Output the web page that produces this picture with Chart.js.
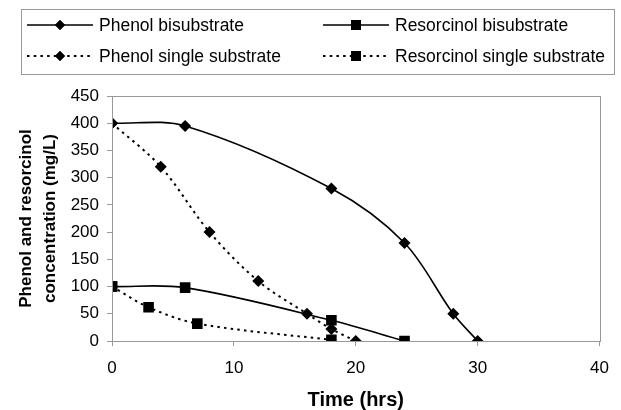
<!DOCTYPE html>
<html>
<head>
<meta charset="utf-8">
<script src="https://cdn.jsdelivr.net/npm/chart.js@4.4.1/dist/chart.umd.min.js"></script>
<style>
  html, body { margin: 0; padding: 0; background: #fff; }
  #wrap { width: 621px; height: 410px; }
</style>
</head>
<body>
<div id="wrap"><canvas id="chart"></canvas></div>
<script>
// 시간 (hrs) 과 농도 (mg/L)
const phenolBiTime = [0, 6, 18, 24, 28, 30];
const phenolBiConc = [400, 395, 280, 180, 50, 0];

const resorcinolBiTime = [0, 6, 18, 24];
const resorcinolBiConc = [100, 98, 38, 0];

const phenolSingleTime = [0, 4, 8, 12, 16, 18, 20];
const phenolSingleConc = [400, 320, 200, 110, 50, 22, 0];

const resorcinolSingleTime = [0, 3, 7, 18];
const resorcinolSingleConc = [100, 62, 32, 2];

const xTicks = [0, 10, 20, 30, 40];
const yTicks = [0, 50, 100, 150, 200, 250, 300, 350, 400, 450];

const FONT = '"Liberation Sans", Arial, sans-serif';
const DOTS = [2.5, 4.2];

const toPoints = (xs, ys) => xs.map((x, i) => ({ x: x, y: ys[i] }));

const series = [
    { label: 'Phenol bisubstrate', data: toPoints(phenolBiTime, phenolBiConc), pointStyle: 'rectRot', radius: 6, dash: [] },
    { label: 'Resorcinol bisubstrate', data: toPoints(resorcinolBiTime, resorcinolBiConc), pointStyle: 'rect', radius: 7.5, dash: [] },
    { label: 'Phenol single substrate', data: toPoints(phenolSingleTime, phenolSingleConc), pointStyle: 'rectRot', radius: 6, dash: DOTS },
    { label: 'Resorcinol single substrate', data: toPoints(resorcinolSingleTime, resorcinolSingleConc), pointStyle: 'rect', radius: 7.5, dash: DOTS }
];

// 범례를 직접 그리는 플러그인 (선 + 마커)
const boxLegend = {
    id: 'boxLegend',
    afterDraw(chart) {
        const ctx = chart.ctx;
        ctx.save();
        ctx.strokeStyle = '#999';
        ctx.lineWidth = 1;
        ctx.strokeRect(21.5, 9.5, 593, 65);
        const cols = [27, 323];
        const rows = [25, 56];
        // 순서: 1행 = 이중기질, 2행 = 단일기질
        const order = [[0, 0, 0], [1, 1, 0], [2, 0, 1], [3, 1, 1]];
        order.forEach(([idx, c, r]) => {
            const s = series[idx];
            const x0 = cols[c], y = rows[r];
            ctx.strokeStyle = '#000';
            ctx.lineWidth = s.dash.length ? 2 : 1.5;
            ctx.setLineDash(s.dash);
            ctx.beginPath();
            ctx.moveTo(x0, y);
            ctx.lineTo(x0 + 66, y);
            ctx.stroke();
            ctx.setLineDash([]);
            ctx.fillStyle = '#000';
            Chart.helpers.drawPoint(ctx, { pointStyle: s.pointStyle, radius: s.pointStyle === 'rect' ? 7 : 5, rotation: 0, borderWidth: 0 }, x0 + 33, y);
            ctx.fill();
            ctx.font = '17.5px ' + FONT;
            ctx.textBaseline = 'middle';
            ctx.textAlign = 'left';
            ctx.fillText(s.label, x0 + 72, y + 1);
        });
        // 플롯 영역 테두리
        const a = chart.chartArea;
        ctx.strokeStyle = '#999';
        ctx.lineWidth = 1;
        ctx.strokeRect(Math.round(a.left) + 0.5, Math.round(a.top) + 0.5, Math.round(a.right - a.left), Math.round(a.bottom - a.top));
        ctx.restore();
    }
};

const config = {
    type: 'line',
    data: {
        datasets: series.map(s => ({
            label: s.label,
            data: s.data,
            borderColor: '#000',
            backgroundColor: '#000',
            borderWidth: s.dash.length ? 2 : 1.6,
            borderDash: s.dash,
            tension: 0.33,
            pointStyle: s.pointStyle,
            pointRadius: s.radius,
            pointBorderWidth: 0,
            fill: false
        }))
    },
    options: {
        responsive: true,
        maintainAspectRatio: false,
        animation: false,
        layout: { padding: { top: 96, right: 19, bottom: 0, left: 0 } },
        plugins: {
            legend: { display: false },
            tooltip: { enabled: false }
        },
        scales: {
            x: {
                type: 'linear',
                min: 0,
                max: 40,
                afterBuildTicks: (scale) => { scale.ticks = xTicks.map(v => ({ value: v })); },
                afterFit: (scale) => { scale.height = 69; },
                grid: { drawOnChartArea: false, drawTicks: true, tickLength: 5, color: '#999' },
                border: { color: '#999' },
                ticks: { color: '#000', padding: 12, maxRotation: 0, font: { family: FONT, size: 17 } },
                title: {
                    display: true,
                    text: 'Time (hrs)',
                    color: '#000',
                    padding: { top: 0, bottom: 0 },
                    font: { family: FONT, size: 20, weight: 'bold', lineHeight: 1 }
                }
            },
            y: {
                min: 0,
                max: 450,
                afterBuildTicks: (scale) => { scale.ticks = yTicks.map(v => ({ value: v })); },
                afterFit: (scale) => { scale.width = 112; },
                grid: { drawOnChartArea: false, drawTicks: true, tickLength: 5, color: '#999' },
                border: { color: '#999' },
                ticks: { color: '#000', padding: 8, font: { family: FONT, size: 17 } },
                title: {
                    display: true,
                    text: ['Phenol and resorcinol', 'concentration (mg/L)'],
                    color: '#000',
                    padding: { top: 14, bottom: 0 },
                    font: { family: FONT, size: 17, weight: 'bold', lineHeight: 1.41 }
                }
            }
        }
    },
    plugins: [boxLegend]
};

new Chart(document.getElementById('chart').getContext('2d'), config);
</script>
</body>
</html>
